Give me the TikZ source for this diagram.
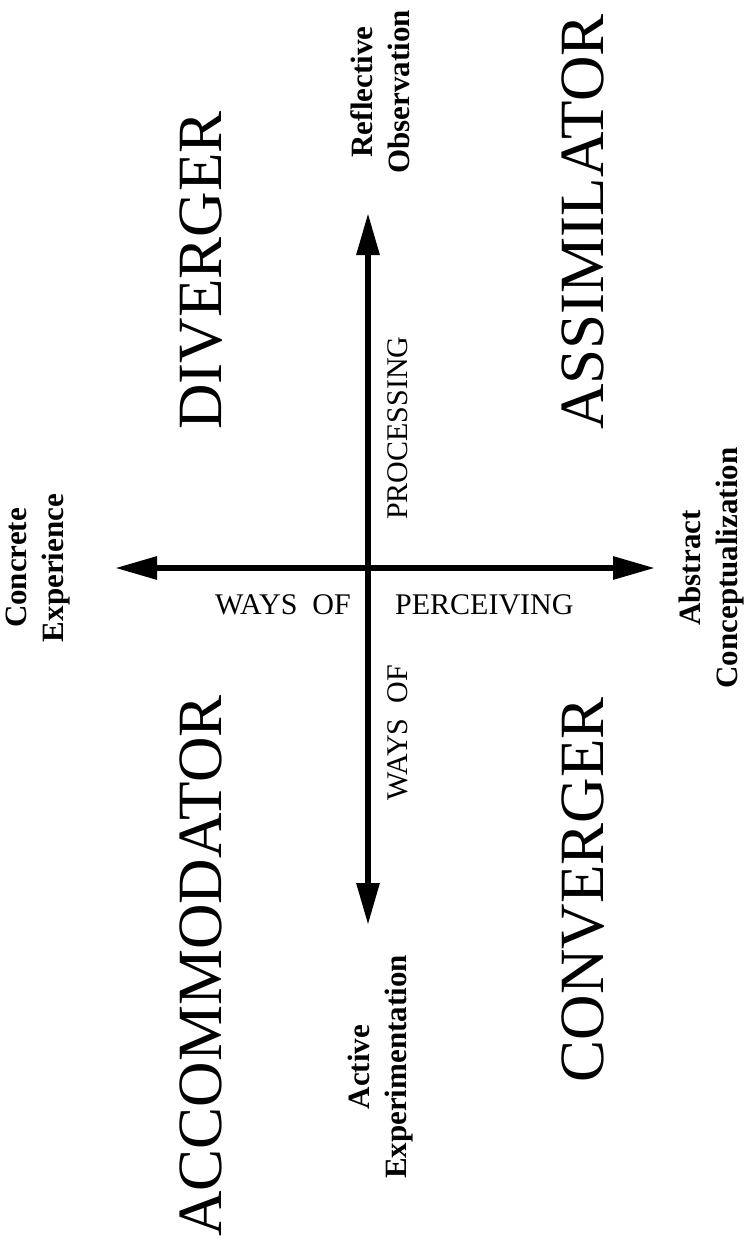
\documentclass[tikz,border=0pt]{standalone}
\usepackage{fontspec}
\setmainfont{Liberation Serif}
\usetikzlibrary{arrows.meta}

\begin{document}
\begin{tikzpicture}[
  x=1pt, y=-1pt,
  axis/.style={line width=6pt, {Triangle[length=42pt,width=22pt]}-{Triangle[length=42pt,width=22pt]}},
  kind/.style={rotate=90, inner sep=0pt, font=\fontsize{63}{63}\selectfont},
  pole/.style={rotate=90, align=center, inner sep=0pt, font=\bfseries\fontsize{31}{37}\selectfont},
  way/.style={inner sep=0pt, font=\fontsize{30}{30}\selectfont}
]
\useasboundingbox (0,0) rectangle (747,1257);
\coordinate (top) at (368,213);
\coordinate (bot) at (368,925);
\coordinate (lft) at (115,568);
\coordinate (rgt) at (655,568);
\draw[axis] (lft) -- (rgt);
\draw[axis] (bot) -- (top);

% ends of the axes
\node[pole] (refl) at (380,92) {Reflective\\Observation};
\node[pole] (conc) at (38,568) {Concrete\\Experience};
\node[pole] (abst) at (712,568) {Abstract\\Conceptualization};
\node[pole] (actv) at (381,1067) {Active\\Experimentation};

% axis names
\node[way, rotate=90, anchor=west] (proc) at (398,520) {PROCESSING};
\node[way, rotate=90, anchor=east] (wayv) at (398,665) {WAYS\ \ OF};
\node[way, anchor=base west] (wayh) at (215,614) {WAYS\ \ OF};
\node[way, anchor=base west] (perc) at (395,614) {PERCEIVING};

% the four styles
\node[kind, anchor=west] (div) at (201,430) {DIVERGER};
\node[kind, anchor=west] (ass) at (583,430) {ASSIMILATOR};
\node[kind, anchor=east] (acc) at (201,695) {ACCOMMODATOR};
\node[kind, anchor=east] (con) at (583,697) {CONVERGER};
\end{tikzpicture}
\end{document}
